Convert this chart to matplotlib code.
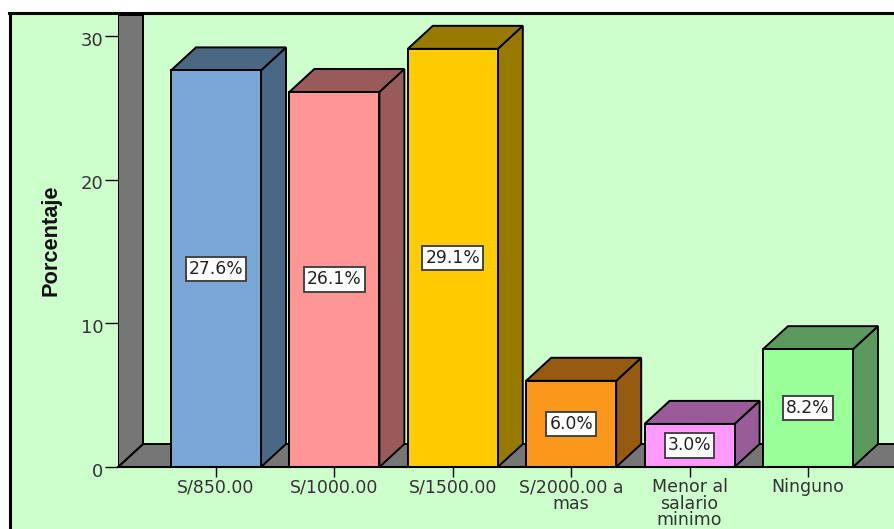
import matplotlib
matplotlib.use('Agg')
from matplotlib import pyplot as plt
from matplotlib.patches import Polygon, Rectangle
from matplotlib.lines import Line2D
from matplotlib.transforms import ScaledTranslation

categories = ['S/850.00', 'S/1000.00', 'S/1500.00', 'S/2000.00 a\nmas',
              'Menor al\nsalario\nminimo', 'Ninguno']
values = [27.6, 26.1, 29.1, 6.0, 3.0, 8.2]
front_colors = ['#7BA7D6', '#FF9696', '#FFCC00', '#FB981B', '#FF99FF', '#99FF99']
side_colors = ['#4A6783', '#995A5A', '#997A00', '#975B10', '#995C99', '#5C995C']
y_ticks = [0, 10, 20, 30]

W, H = 895, 529
fig = plt.figure(figsize=(W / 100, H / 100), dpi=100, facecolor='white')

# panel background, only left and top border are visible in the original
fig.add_artist(Rectangle((10 / W, 0), 1, 1 - 13 / H, transform=fig.transFigure,
                         facecolor='#CCFFCC', edgecolor='none', zorder=-5))
fig.add_artist(Line2D([10 / W, 10 / W], [0, 1 - 13 / H], color='black', lw=2.2))
fig.add_artist(Line2D([9 / W, 1], [1 - 13 / H, 1 - 13 / H], color='black', lw=2.2))

x0_px, x1_px, y0_px, y1_px = 118, 895, 467, 15
px_per_cat = 118.4
px_per_unit = 14.37

ax = fig.add_axes([x0_px / W, 1 - y0_px / H, (x1_px - x0_px) / W, (y0_px - y1_px) / H])
ax.patch.set_visible(False)
first_center = 216
ax.set_xlim((x0_px - first_center) / px_per_cat, (x1_px - first_center) / px_per_cat)
ax.set_ylim(0, (y0_px - y1_px) / px_per_unit)

dx = 25 / px_per_cat
dy = 23 / px_per_unit
bar_w = 90 / px_per_cat
top = ax.get_ylim()[1]
xl = ax.get_xlim()
lw = 1.4
gray = '#767676'

# floor and left wall
ax.add_patch(Polygon([(xl[0], 0), (xl[0] + dx, dy), (xl[1], dy), (xl[1], 0)],
                     facecolor=gray, edgecolor='black', lw=lw, zorder=1))
ax.add_patch(Polygon([(xl[0], 0), (xl[0] + dx, dy), (xl[0] + dx, top), (xl[0], top)],
                     facecolor=gray, edgecolor='black', lw=lw, zorder=1))

xs = list(range(len(values)))
for x, v, fc, sc in zip(xs, values, front_colors, side_colors):
    l = x - bar_w / 2
    r = x + bar_w / 2
    ax.add_patch(Polygon([(r, 0), (r + dx, dy), (r + dx, v + dy), (r, v)],
                         facecolor=sc, edgecolor='black', lw=lw, zorder=2))
    ax.add_patch(Polygon([(l, v), (l + dx, v + dy), (r + dx, v + dy), (r, v)],
                         facecolor=sc, edgecolor='black', lw=lw, zorder=2))

ax.bar(xs, values, width=bar_w, color=front_colors, edgecolor='black', linewidth=lw, zorder=3)

for x, v in zip(xs, values):
    ax.text(x, v / 2, '%.1f%%' % v, ha='center', va='center', fontsize=12.3,
            family='DejaVu Sans', color='#222222', zorder=4,
            bbox=dict(boxstyle='square,pad=0.18', facecolor='white', edgecolor='#444444', lw=1.4))

for s in ['top', 'right', 'left']:
    ax.spines[s].set_visible(False)
ax.spines['bottom'].set_linewidth(1.5)
ax.spines['bottom'].set_zorder(5)

ax.set_yticks(y_ticks)
ax.set_xticks(xs)
ax.set_xticklabels(categories, linespacing=0.9)
ax.tick_params(axis='y', length=9.4, width=1, pad=1, labelsize=13, labelcolor='#333333')
ax.tick_params(axis='x', length=7, width=1, pad=1, labelsize=12.5, labelcolor='#333333')

# y labels sit a little below their ticks in the original
shift = ScaledTranslation(0, -2 / 72, fig.dpi_scale_trans)
for lab in ax.get_yticklabels():
    lab.set_transform(lab.get_transform() + shift)

fig.text(51 / W, 1 - 240 / H, 'Porcentaje', rotation=90, ha='center', va='center',
         family='Liberation Sans', fontweight='bold', fontsize=15.7, color='#111111')

plt.savefig('out.png', dpi=100)
